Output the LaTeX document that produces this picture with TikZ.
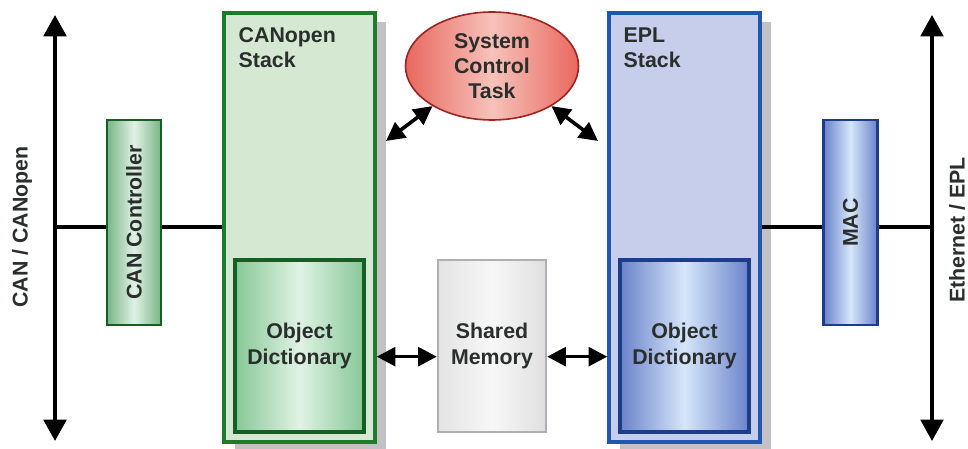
\documentclass[tikz,border=0pt]{standalone}
\usepackage{fontspec}
\setmainfont{Liberation Sans}
\usetikzlibrary{arrows.meta,shapes.geometric,shadows,calc}

\definecolor{stgreen}{HTML}{D5E9D2}
\definecolor{bdgreen}{HTML}{1E7B2C}
\definecolor{dkgreen}{HTML}{165E24}
\definecolor{mdgreen}{HTML}{86C896}
\definecolor{ltgreen}{HTML}{E0F2E4}
\definecolor{stblue}{HTML}{C6CEEC}
\definecolor{bdblue}{HTML}{1E58B2}
\definecolor{dkblue}{HTML}{1C3D8C}
\definecolor{mdblue}{HTML}{6A82CA}
\definecolor{ltblue}{HTML}{D6E6FA}
\definecolor{shgray}{HTML}{C4C1C6}
\definecolor{bdred}{HTML}{9E2424}
\definecolor{mdred}{HTML}{E8685E}
\definecolor{ltred}{HTML}{F6C2BA}
\definecolor{txt}{HTML}{2A2E2C}

\tikzset{
  lbl/.style={font=\fontsize{16}{19}\selectfont\bfseries, text=txt, align=center},
  stack/.style={draw, line width=2.6pt, minimum width=151*0.75pt, minimum height=429*0.75pt,
    drop shadow={shadow xshift=8.5pt, shadow yshift=-7pt, fill=shgray, opacity=1}},
  odict/.style={lbl, draw, line width=2.4pt, minimum width=129*0.75pt, minimum height=172*0.75pt},
  chip/.style={lbl, draw, line width=2.2pt, minimum width=54*0.75pt, minimum height=205*0.75pt},
  bus/.style={line width=2.4pt, {Triangle[width=17pt,length=16pt]}-{Triangle[width=17pt,length=16pt]}},
  link/.style={line width=2.7pt, {Triangle[width=14pt,length=14pt]}-{Triangle[width=14pt,length=14pt]}},
  wire/.style={line width=2.4pt}
}

\begin{document}
\begin{tikzpicture}[x=0.75pt, y=-0.75pt]
  \useasboundingbox (0,0) rectangle (968,449);

  % Stacks
  \node[stack, fill=stgreen, draw=bdgreen] (canopen) at (299.5,227.5) {};
  \node[stack, fill=stblue, draw=bdblue] (epl) at (684.5,227.5) {};
  \node[lbl, align=left, anchor=north west] at (234,23) {CANopen\\Stack};
  \node[lbl, align=left, anchor=north west] at (619,23) {EPL\\Stack};

  % Object dictionaries
  \node[odict, draw=dkgreen, left color=mdgreen, right color=mdgreen, middle color=ltgreen]
    (odcan) at (299.5,346) {Object\\Dictionary};
  \node[odict, draw=dkblue, left color=mdblue, right color=mdblue, middle color=ltblue]
    (odepl) at (684.5,346) {Object\\Dictionary};

  % Shared memory
  \node[lbl, draw=shgray!90!black, line width=1.8pt, minimum width=108*0.75pt, minimum height=172*0.75pt,
    left color=gray!22, right color=gray!25, middle color=gray!6]
    (shm) at (492,346) {Shared\\Memory};

  % System control task
  \node[lbl, ellipse, draw=bdred, line width=1.2pt, minimum width=173*0.75pt, minimum height=108*0.75pt,
    inner sep=0pt, left color=mdred, right color=mdred, middle color=ltred]
    (sct) at (492,66) {System\\Control\\Task};

  % Controllers
  \node[chip, draw=dkgreen, left color=mdgreen!90!black, right color=mdgreen!90!black, middle color=ltgreen]
    (ctrl) at (134,222.5) {};
  \node[lbl, rotate=90] at (ctrl) {CAN Controller};
  \node[chip, draw=dkblue, left color=mdblue, right color=mdblue, middle color=ltblue]
    (mac) at (850.5,222.5) {};
  \node[lbl, rotate=90] at (mac) {MAC};

  % Buses
  \coordinate (canTop) at (55,15);
  \coordinate (canBot) at (55,441);
  \coordinate (ethTop) at (932,15);
  \coordinate (ethBot) at (932,441);
  \draw[bus] (canTop) -- (canBot);
  \draw[bus] (ethTop) -- (ethBot);
  \node[lbl, rotate=90] at (22,227) {CAN / CANopen};
  \node[lbl, rotate=90] at (957,230) {Ethernet / EPL};

  % Wires
  \draw[wire] (canTop |- 0,227) -- (ctrl.west |- 0,227);
  \draw[wire] (ctrl.east |- 0,227) -- (canopen.west |- 0,227);
  \draw[wire] (epl.east |- 0,227) -- (mac.west |- 0,227);
  \draw[wire] (mac.east |- 0,227) -- (ethTop |- 0,227);

  % Links
  \draw[link] ([yshift=-8pt]shm.west) -- ([yshift=-8pt]shm.west -| canopen.east);
  \draw[link] ([yshift=-8pt]shm.east) -- ([yshift=-8pt]shm.east -| epl.west);
  \coordinate (tl) at (386,141);
  \coordinate (tr) at (598,141);
  \draw[link] (sct.214) -- (tl);
  \draw[link] (sct.326) -- (tr);
\end{tikzpicture}
\end{document}
